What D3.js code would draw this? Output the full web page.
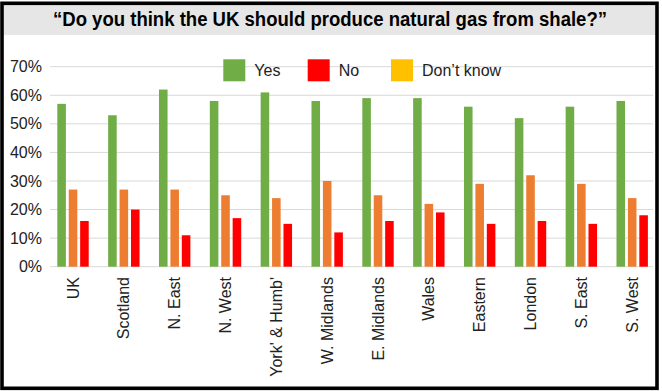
<!DOCTYPE html>
<html>
<head>
<meta charset="utf-8">
<script src="https://cdn.jsdelivr.net/npm/d3@7"></script>
<style>
  html, body { margin: 0; padding: 0; background: #fff; }
  svg { display: block; font-family: "Liberation Sans", Arial, sans-serif; }
</style>
</head>
<body>
<svg id="chart" width="662" height="391"></svg>
<script>
const titleText = "\u201CDo you think the UK should produce natural gas from shale?\u201D";
const categories = ["UK", "Scotland", "N. East", "N. West", "York' & Humb'", "W. Midlands",
  "E. Midlands", "Wales", "Eastern", "London", "S. East", "S. West"];
const seriesNames = ["Yes", "No", "Don't know"];
const yesValues      = [57, 53, 62, 58, 61, 58, 59, 59, 56, 52, 56, 58];
const noValues       = [27, 27, 27, 25, 24, 30, 25, 22, 29, 32, 29, 24];
const dontKnowValues = [16, 20, 11, 17, 15, 12, 16, 19, 15, 16, 15, 18];
const yTicks = [0, 10, 20, 30, 40, 50, 60, 70];
const barColors = ["#70ad47", "#ed7d31", "#ff0000"];
const legendColors = ["#70ad47", "#ff0000", "#ffc000"];

const series = [yesValues, noValues, dontKnowValues];
const svg = d3.select("#chart");

// Title band
svg.append("rect").attr("x", 2).attr("y", 4).attr("width", 655).attr("height", 31)
  .attr("fill", "#e7e6e6");
svg.append("text").attr("x", 330).attr("y", 26).attr("text-anchor", "middle")
  .attr("font-size", 20).attr("font-weight", "bold").attr("fill", "#000")
  .attr("textLength", 554).attr("lengthAdjust", "spacingAndGlyphs")
  .text(titleText);

// Scales
const y = d3.scaleLinear().domain([0, 70]).range([266.7, 66.7]);
const x0 = d3.scaleBand().domain(categories).range([47.6, 657.6]).padding(0);
const groupW = 31.4;
const x1 = d3.scaleBand().domain(d3.range(3)).range([-groupW / 2, groupW / 2])
  .paddingInner(0.25).paddingOuter(0);

// Gridlines
svg.append("g").selectAll("line").data(yTicks).join("line")
  .attr("x1", 50).attr("x2", 653)
  .attr("y1", d => y(d)).attr("y2", d => y(d))
  .attr("stroke", "#d9d9d9").attr("stroke-width", 1);

// Y axis labels
const yAxis = d3.axisLeft(y).tickValues(yTicks).tickFormat(d => d + "%").tickSize(0).tickPadding(0);
const yg = svg.append("g").attr("transform", "translate(42,0)").call(yAxis);
yg.select(".domain").remove();
yg.selectAll("text").attr("font-size", 16).attr("fill", "#222")
  .attr("font-family", "'Liberation Sans', Arial, sans-serif");

// Bars
const groups = svg.append("g").selectAll("g").data(categories).join("g")
  .attr("transform", c => `translate(${x0(c) + x0.bandwidth() / 2},0)`);
groups.selectAll("rect").data((c, i) => series.map((s, k) => ({k, v: s[i]}))).join("rect")
  .attr("x", d => x1(d.k)).attr("width", x1.bandwidth())
  .attr("y", d => y(d.v)).attr("height", d => y(0) - y(d.v))
  .attr("fill", d => barColors[d.k]);

// X axis labels
const xAxis = d3.axisBottom(x0).tickSize(0).tickPadding(0);
const xg = svg.append("g").attr("transform", "translate(0,277)").call(xAxis);
xg.select(".domain").remove();
xg.selectAll("text").attr("font-size", 16).attr("fill", "#222")
  .attr("font-family", "'Liberation Sans', Arial, sans-serif")
  .attr("text-anchor", "end").attr("dy", "0.35em").attr("y", 0)
  .attr("transform", "rotate(-90)");

// Legend
const legendX = [223.3, 307.7, 391];
const lg = svg.append("g").selectAll("g").data(seriesNames).join("g")
  .attr("transform", (d, i) => `translate(${legendX[i]},59.3)`);
lg.append("rect").attr("width", 22).attr("height", 22).attr("fill", (d, i) => legendColors[i]);
lg.append("text").attr("x", 31).attr("y", 16.5).attr("font-size", 16).attr("fill", "#222")
  .text(d => d === "Don't know" ? "Don\u2019t know" : d);

// Border
svg.append("rect").attr("x", 2).attr("y", 3.3).attr("width", 655).attr("height", 385)
  .attr("fill", "none").attr("stroke", "#000").attr("stroke-width", 3.6);
</script>
</body>
</html>
